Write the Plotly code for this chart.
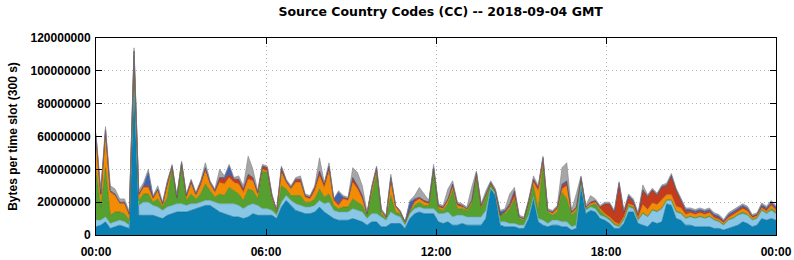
import plotly.graph_objects as go
import pandas as pd

# 10-minute samples of the 300 s slots, values in millions of bytes
dk = [5,6,8,4,5,6,5,4,90,12,
      12,12,12,11,10,12,13,14,14,14,
      15,16,17,18,18,16,14,13,12,11,
      11,10,11,13,12,12,12,12,10,17,
      21,18,15,14,13,13,14,17,14,12,
      10,9,9,9,10,9,8,6,8,8,
      5,5,7,7,7,4,10,13,14,13,
      13,13,8,7,8,6,6,7,6,6,
      6,6,10,28,24,6,5,5,5,4,
      4,10,22,8,6,5,6,6,5,5,
      3,4,29,13,15,14,10,9,7,4,
      4,7,14,14,7,6,5,8,7,8,
      19,18,10,9,6,6,5,5,5,5,
      4,4,3,4,5,6,8,7,5,6,
      10,9,10,9]
lt = [4,3,3,3,3,3,3,2,2,6,
      8,8,6,6,5,5,5,5,5,4,
      4,3,3,3,3,4,5,6,7,8,
      7,6,7,6,6,4,4,3,2,3,
      3,3,4,4,4,4,4,4,5,8,
      5,5,5,5,6,6,6,4,5,5,
      6,4,7,5,4,2,3,3,3,3,
      3,3,5,6,6,5,6,5,5,5,
      5,5,5,1,1,2,3,2,2,2,
      2,2,1,2,3,2,3,3,3,3,
      2,2,2,2,2,2,2,2,2,2,
      1,2,3,2,2,7,6,7,7,8,
      2,3,4,4,4,5,5,6,5,6,
      5,4,3,5,5,6,5,5,4,4,
      5,4,5,4]
gr = [30,8,30,5,6,5,5,3,14,3,
      5,5,2,5,2,6,22,3,22,3,
      6,3,5,10,6,3,6,5,10,8,
      7,5,10,8,4,23,22,7,2,10,
      4,3,5,6,3,3,4,7,4,5,
      3,2,3,3,6,5,4,2,12,24,
      2,1,10,2,2,1,1,2,3,2,
      2,23,3,2,5,16,4,4,4,8,
      24,5,8,2,1,4,5,9,15,4,
      3,7,7,5,34,7,3,5,18,14,
      7,9,2,1,1,3,3,1,1,1,
      0.5,1,1,1,0.5,0.5,0.5,0.5,0.5,0.5,
      0.5,0.5,0.5,0.5,0.5,0.5,0.5,0.5,0.5,0.5,
      0.5,0.5,0.5,0.5,0.5,0.5,1,0.5,0.5,0.5,
      0.5,0.5,1,1]
orng = [18,7,20,14,10,5,6,3,3,3,
        4,4,2,5,1,7,1,1,2,2,
        6,2,5,8,4,3,7,7,6,5,
        6,5,6,6,3,1,1,1,1,8,
        4,4,8,8,3,2,5,8,6,14,
        3,2,5,4,10,8,4,1,3,2,
        2,1,8,3,1,1,1,2,2,2,
        1,1,1,1,2,2,2,1,1,1,
        1,1,1,0,0,0,1,1,1,1,
        1,1,2,12,1,1,1,2,2,8,
        1,1,1,1,1,1,1,1,1,1,
        1,1,1,1,1,5,4,4,4,5,
        3,3,3,3,2,2,2,2,2,2,
        1,1,1,1,2,2,2,2,1,1,
        1,1,2,1]
red = [3,1,3,1,1,1,1,1,3,1,
       1,1,1,1,1,2,1,0,1,1,
       2,1,2,2,1,1,3,3,2,2,
       3,2,3,2,1,2,2,1,0,3,
       1,1,2,2,1,1,2,3,2,3,
       1,1,1,1,3,2,2,0,1,2,
       0,0,3,1,0,0,0,1,1,1,
       1,1,1,1,1,2,1,1,0,1,
       2,1,1,1,1,0,0,1,4,0,
       0,1,2,2,3,0,1,1,2,2,
       1,1,1,0,1,1,1,6,8,6,
       25,3,4,2,2,9,8,8,6,8,
       5,11,10,5,2,1,1,1,1,1,
       1,1,1,1,1,1,1,1,1,1,
       1,1,1,1]
blu = [0,0,0,0,0,0,0,0,0,0,
       0,8,0,0,0,0,0,0,0,0,
       0,0,0,0,0,0,0,1,5,0,
       0,0,0,0,0,0,0,0,0,0,
       0,0,0,0,0,0,0,0,0,0,
       0,7,0,0,0,0,0,0,0,0,
       0,0,0,0,0,0,5,1,0,0,
       0,0,0,0,0,0,0,0,0,0,
       0,0,0,0,0,2,1,1,0,0,
       0,0,0,0,0,0,0,0,1,1,
       0,0,0,0,0,0,0,0,0,0,
       0,0,1,1,0,0,0,0,0,0,
       1,1,0,0,1,1,1,1,1,1,
       1,1,0,1,1,1,1,1,0,0,
       1,1,1,1]
gry = [2,3,2,3,3,2,2,1,2,2,
       2,2,1,2,1,1,1,1,1,1,
       1,1,1,3,1,1,5,1,1,1,
       2,2,11,5,1,1,1,1,0,1,
       1,1,1,2,1,1,1,8,1,2,
       0,1,1,1,6,8,6,1,1,1,
       1,1,2,0,1,0,1,2,6,4,
       1,2,1,1,6,2,1,1,1,8,
       1,1,2,1,1,1,1,6,2,1,
       1,1,2,1,1,1,1,1,10,11,
       1,8,1,1,4,1,1,1,1,1,
       1,1,1,1,1,3,1,1,1,1,
       1,1,1,1,1,1,1,1,1,1,
       1,1,1,1,1,1,1,1,1,1,
       1,1,1,1]

series = [
    ("dk", dk, "#0a80b2", "#07668f"),
    ("lt", lt, "#8ac6e6", "#6aa6c6"),
    ("gr", gr, "#55a02e", "#3f7f20"),
    ("or", orng, "#f38c05", "#c96f00"),
    ("red", red, "#c43c1e", "#9a2c14"),
    ("blu", blu, "#3d64b3", "#2c4c8c"),
    ("gry", gry, "#a6a6a6", "#808080"),
]
for name, s, _, _ in series:
    assert len(s) == 144, (name, len(s))

t = pd.date_range("2018-09-04 00:00", "2018-09-05 00:00", periods=144)

fig = go.Figure()
for name, s, fc, lc in series:
    fig.add_trace(go.Scatter(
        x=t, y=[v * 1e6 for v in s], stackgroup="one", mode="lines",
        line=dict(width=0.6, color=lc), fillcolor=fc, name=name,
        showlegend=False))

font = dict(family="Liberation Sans, Arial, sans-serif", size=12, color="black", weight="bold")
fig.update_layout(
    width=794, height=260,
    margin=dict(l=96, r=18, t=38, b=25, autoexpand=False),
    paper_bgcolor="white", plot_bgcolor="white",
    title=dict(text="Source Country Codes (CC) -- 2018-09-04 GMT",
               x=0.555, xanchor="center", y=0.955, yanchor="middle",
               font=dict(family="DejaVu Sans, sans-serif", size=12.5, color="black", weight="bold")),
    font=font,
)
fig.update_xaxes(
    range=["2018-09-04 00:00", "2018-09-05 00:00"],
    tickformat="%H:%M", dtick=6 * 3600 * 1000,
    tick0="2018-09-04 00:00",
    showline=True, linecolor="black", linewidth=1, mirror="allticks",
    ticks="inside", ticklen=6, tickcolor="black",
    showgrid=True, gridcolor="#b4b4b4", griddash="1px,3px", gridwidth=1,
    tickfont=font, zeroline=False, ticklabelstandoff=6,
)
fig.update_yaxes(
    range=[0, 120e6], dtick=20e6, tickformat="d",
    showline=True, linecolor="black", linewidth=1, mirror="allticks",
    ticks="inside", ticklen=6, tickcolor="black",
    showgrid=True, gridcolor="#b4b4b4", griddash="1px,3px", gridwidth=1,
    tickfont=font, zeroline=False, ticklabelstandoff=2,
    title=dict(text="Bytes per time slot (300 s)", font=font, standoff=10),
)
fig.write_html("out.html")
